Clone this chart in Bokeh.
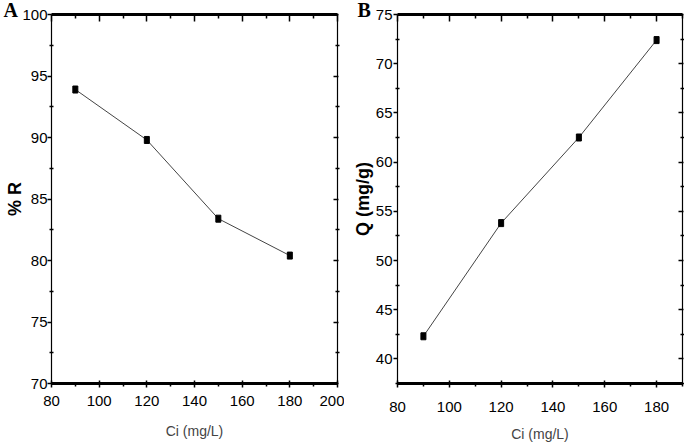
from bokeh.plotting import figure
from bokeh.layouts import row
from bokeh.models import LinearAxis, FixedTicker, Range1d
from bokeh.embed import file_html
from bokeh.resources import INLINE

# ---- data ----
ci = [90, 120, 150, 180]                 # initial concentration (mg/L)
removal_pct = [93.9, 89.8, 83.4, 80.4]    # % R
uptake_q = [42.3, 53.8, 62.5, 72.4]       # Q (mg/g)

xa_ticks = [80, 100, 120, 140, 160, 180, 200]
xa_minor = [90, 110, 130, 150, 170, 190]
ya_ticks = [70, 75, 80, 85, 90, 95, 100]
ya_minor = [72.5, 77.5, 82.5, 87.5, 92.5, 97.5]

xb_ticks = [80, 100, 120, 140, 160, 180]
xb_minor = [90, 110, 130, 150, 170, 190]
yb_ticks = [40, 45, 50, 55, 60, 65, 70, 75]
yb_minor = [37.5, 42.5, 47.5, 52.5, 57.5, 62.5, 67.5, 72.5]

FONT = "Liberation Sans"


def style_axis(ax, ticks, minor, show_labels, tin, tout, mtin, mtout, lw, standoff=1):
    ax.ticker = FixedTicker(ticks=ticks, minor_ticks=minor)
    ax.axis_line_width = lw
    ax.axis_line_color = "black"
    ax.major_tick_line_color = "black"
    ax.minor_tick_line_color = "black"
    ax.major_tick_line_width = 1.5
    ax.minor_tick_line_width = 1.5
    ax.major_tick_in = tin
    ax.major_tick_out = tout
    ax.minor_tick_in = mtin
    ax.minor_tick_out = mtout
    ax.major_label_text_font = FONT
    ax.major_label_text_font_size = "15px"
    ax.major_label_text_color = "black"
    ax.major_label_standoff = standoff
    if not show_labels:
        ax.major_label_overrides = {t: "" for t in ticks}
        ax.major_label_text_font_size = "1px"
        ax.major_label_standoff = 0


def make_panel(x, y, xr, yr, xt, xm, yt, ym, ylabel, letter, letter_offset,
               width, bl, br, bt, bb, xstand, xlstand, ystand, ylstand):
    p = figure(width=width, height=446, output_backend="svg", toolbar_location=None,
               x_range=Range1d(*xr), y_range=Range1d(*yr),
               min_border_left=bl, min_border_right=br, min_border_top=bt,
               min_border_bottom=bb)
    p.xgrid.visible = False
    p.ygrid.visible = False
    p.outline_line_color = None
    p.background_fill_color = "white"
    p.border_fill_color = "white"

    style_axis(p.xaxis[0], xt, xm, True, 3, 4, 0, 3, 3, standoff=xstand)
    style_axis(p.yaxis[0], yt, ym, True, 0, 4, 2, 2, 1.2, standoff=ystand)
    p.xaxis[0].axis_label = "Ci (mg/L)"
    p.xaxis[0].axis_label_text_font = FONT
    p.xaxis[0].axis_label_text_font_style = "normal"
    p.xaxis[0].axis_label_text_font_size = "14px"
    p.xaxis[0].axis_label_standoff = xlstand
    p.yaxis[0].axis_label = ylabel
    p.yaxis[0].axis_label_text_font = FONT
    p.yaxis[0].axis_label_text_font_style = "bold"
    p.yaxis[0].axis_label_text_font_size = "18px"
    p.yaxis[0].axis_label_text_color = "black"
    p.yaxis[0].axis_label_standoff = ylstand

    # panel letter
    p.title.text = letter
    p.title.align = "left"
    p.title.offset = letter_offset
    p.title.standoff = -12
    p.title.text_font = "Liberation Serif"
    p.title.text_font_style = "bold"
    p.title.text_font_size = "20px"
    p.title.text_color = "black"

    top = LinearAxis()
    style_axis(top, xt, xm, False, 7, 0, 4, 0, 3)
    p.add_layout(top, "above")
    right = LinearAxis()
    style_axis(right, yt, ym, False, 4, 1, 2, 2, 1.2)
    p.add_layout(right, "right")

    p.line(x, y, line_color="#444444", line_width=1)
    p.rect(x, y, width=5, height=7, width_units="screen", height_units="screen",
           fill_color="black", line_color="black")
    return p


pa = make_panel(ci, removal_pct, (80, 200), (70, 100), xa_ticks, xa_minor,
                ya_ticks, ya_minor, "% R", "A", -48,
                344, 51, 7, 14, 63, 8, 14, 0, -6)
pb = make_panel(ci, uptake_q, (80, 190), (37.5, 75), xb_ticks, xb_minor,
                yb_ticks, yb_minor, "Q (mg/g)", "B", -40,
                340, 53, 2, 12, 60, 14, 11, 1, 0)

layout = row(pa, pb, spacing=0)
open("out.html", "w").write(file_html(layout, INLINE))
